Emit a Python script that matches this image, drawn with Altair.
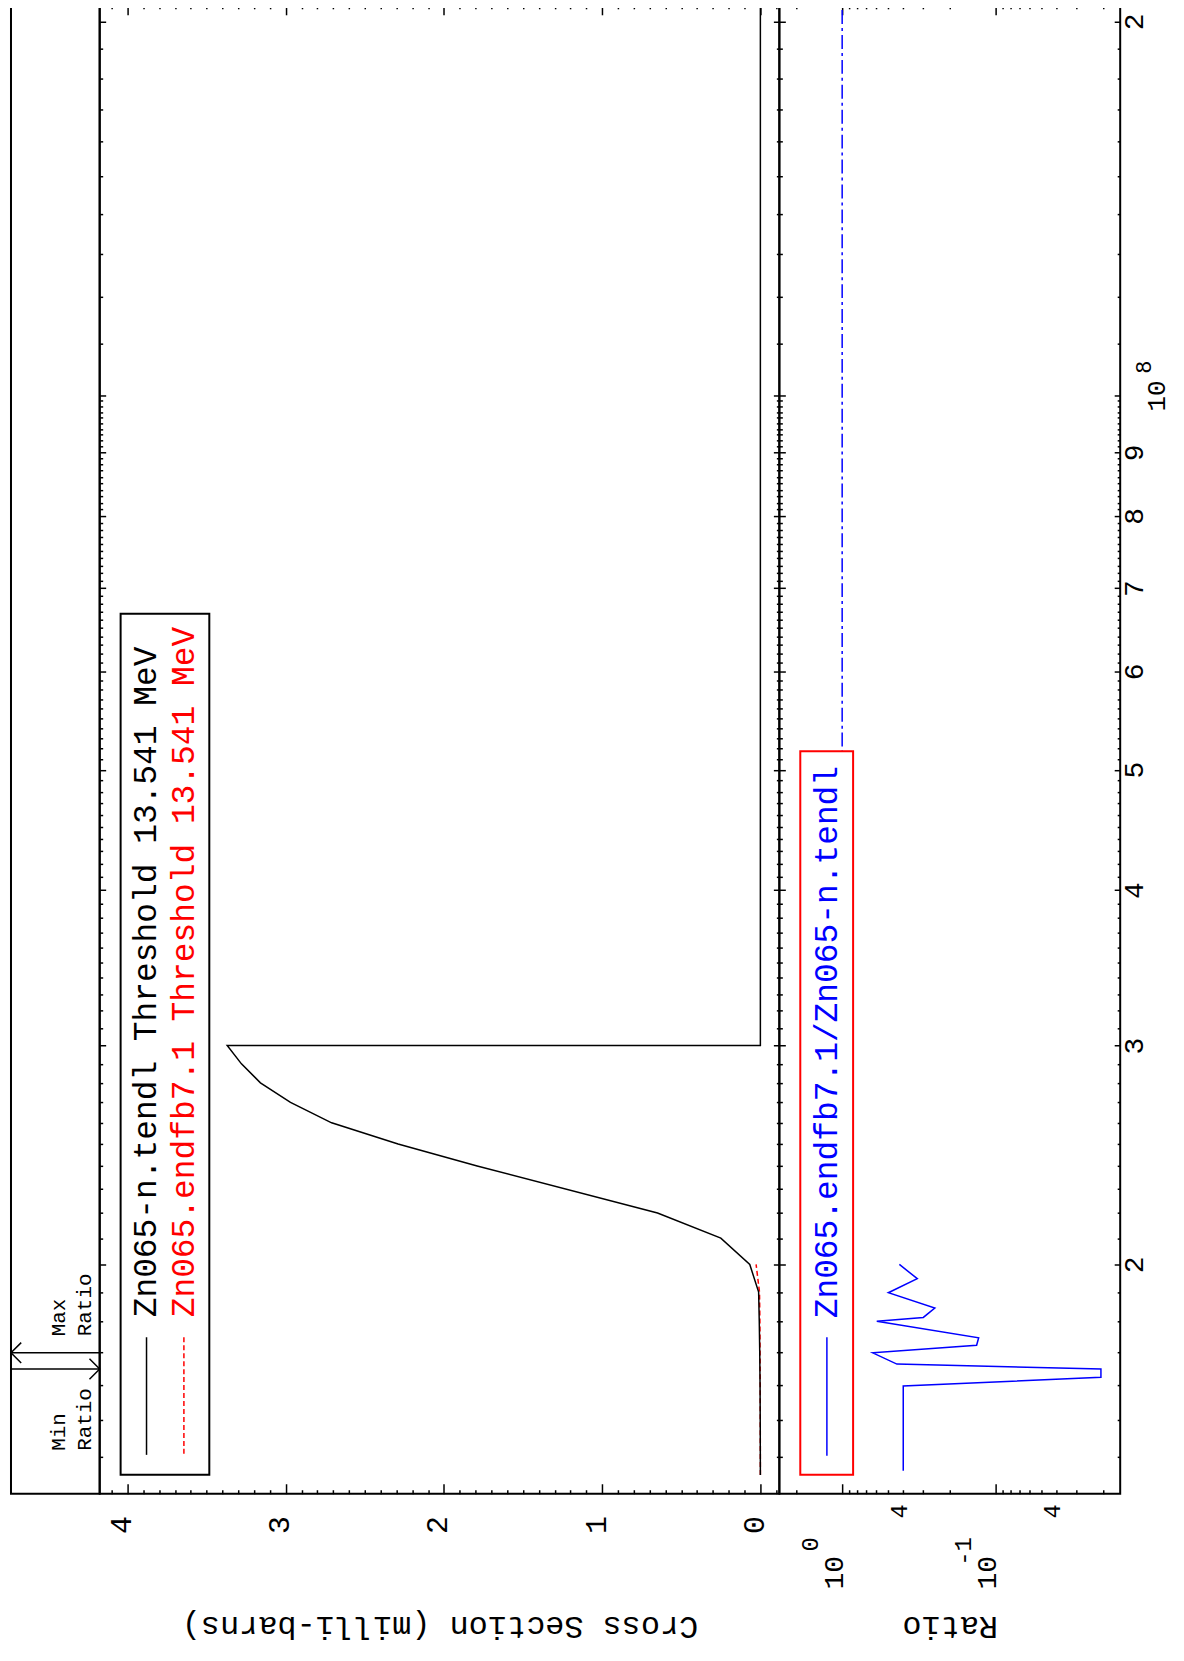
import altair as alt
import pandas as pd

FONT = "Liberation Mono"

# ---------------- axis ranges ----------------
E_DOMAIN = [1.308e7, 2.062e8]      # incident energy (eV), log
CS_DOMAIN = [-0.12, 4.176]         # cross section (milli-barns)
R_DOMAIN = [0.01543, 2.566]        # ratio, log

# ---------------- data ----------------
tendl_E = [1.3541e7, 1.5e7, 1.6e7, 1.7e7, 1.8e7, 1.9e7, 2.0e7, 2.1e7, 2.2e7, 2.4e7,
           2.5e7, 2.6e7, 2.7e7, 2.8e7, 2.9e7, 3.0e7, 3.0e7, 2.1e8]
tendl_cs = [0.0, 0.001, 0.002, 0.004, 0.007, 0.011, 0.067, 0.25, 0.65, 1.79,
            2.29, 2.71, 2.97, 3.16, 3.28, 3.37, 0.0, 0.0]

endfb_E = [1.3541e7, 1.6e7, 1.8e7, 1.9e7, 2.0e7]
endfb_cs = [0.0, 0.001, 0.003, 0.0055, 0.027]

ratio_E = [1.365e7, 1.597e7, 1.623e7, 1.648e7, 1.663e7, 1.698e7, 1.722e7, 1.746e7,
           1.800e7, 1.813e7, 1.845e7, 1.898e7, 1.948e7, 2.000e7]
ratio_val = [0.40, 0.40, 0.0206, 0.0206, 0.44, 0.632, 0.133, 0.129,
             0.595, 0.296, 0.249, 0.50, 0.324, 0.424]

ratio_one_E = [3.0e7, 2.1e8]
ratio_one = [1.0, 1.0]

# energies of the max / min ratio markers in the top strip
marker_E = [1.698e7, 1.648e7]
marker_kind = ["max", "min"]

legend_tendl = "Zn065-n.tendl Threshold 13.541 MeV"
legend_endfb = "Zn065.endfb7.1 Threshold 13.541 MeV"
legend_ratio = "Zn065.endfb7.1/Zn065-n.tendl"

# ---------------- ticks and labels ----------------
cs_major = [0, 1, 2, 3, 4]
cs_minor = [round(i * 0.1, 1) for i in range(-1, 42) if i % 10 != 0]

E_major = [2e7, 3e7, 4e7, 5e7, 6e7, 7e7, 8e7, 9e7, 2e8]
E_major_labels = ["2", "3", "4", "5", "6", "7", "8", "9", "2"]
E_decade = [1e8]
E_decade_base = ["10"]
E_decade_exp = ["8"]
E_minor = [k * 1e6 for k in range(14, 100) if k % 10 != 0] + [k * 1e7 for k in range(11, 20)]

R_major = [1.0, 0.1]
R_major_base = ["10", "10"]
R_major_exp = ["0", "-1"]
R_mid = [0.4, 0.04]
R_mid_labels = ["4", "4"]
R_minor = [2.0, 0.9, 0.8, 0.7, 0.6, 0.5, 0.4, 0.3, 0.2,
           0.09, 0.08, 0.07, 0.06, 0.05, 0.04, 0.03, 0.02]

# ---------------- layout ----------------
H = 1494
W_S = 89
W_CS = 682
W_R = 342


def label_expr(values, labels):
    parts = [f"abs(datum.value - {float(v)!r}) < {abs(float(v)) * 1e-6!r} ? '{l}'"
             for v, l in zip(values, labels)]
    return " : ".join(parts) + " : ''"


def tick_axis(orient, offset, values, size):
    return alt.Axis(orient=orient, offset=offset, values=values, tickSize=size,
                    labels=False, domain=False, grid=False, title=None, ticks=True,
                    tickColor="black", tickWidth=1.5)


def helper(xscale, yscale, xv, yv, xaxis, yaxis):
    df = pd.DataFrame({"hx": [xv], "hy": [yv]})
    return alt.Chart(df).mark_point(opacity=0, size=1).encode(
        x=alt.X("hx:Q", scale=xscale, axis=xaxis),
        y=alt.Y("hy:Q", scale=yscale, axis=yaxis),
    )


ys = alt.Scale(type="log", domain=E_DOMAIN, nice=False, zero=False)
xs_cs = alt.Scale(domain=CS_DOMAIN, reverse=True, nice=False, zero=False)
xs_r = alt.Scale(type="log", domain=R_DOMAIN, reverse=True, nice=False, zero=False)
xs_s = alt.Scale(domain=[0, 1], nice=False, zero=False)

one = pd.DataFrame({"a": [0]})

# ================= strip with Min / Max ratio markers =================
mk = pd.DataFrame({"E": marker_E, "kind": marker_kind, "x0": [0.0, 0.0], "x1": [1.0, 1.0],
                   "head": [0.0, 1.0]})
arrows = alt.Chart(mk).mark_rule(color="black", strokeWidth=1.5).encode(
    x=alt.X("x0:Q", scale=xs_s, axis=None), x2="x1:Q",
    y=alt.Y("E:Q", scale=ys, axis=None))
head_max = alt.Chart(mk).transform_filter("datum.kind == 'max'").mark_point(
    shape="M 1 -1 L 0 0 L 1 1", size=420, filled=False, color="black", strokeWidth=1.5, opacity=1
).encode(x=alt.X("head:Q", scale=xs_s, axis=None), y=alt.Y("E:Q", scale=ys, axis=None))
head_min = alt.Chart(mk).transform_filter("datum.kind == 'min'").mark_point(
    shape="M -1 -1 L 0 0 L -1 1", size=420, filled=False, color="black", strokeWidth=1.5, opacity=1
).encode(x=alt.X("head:Q", scale=xs_s, axis=None), y=alt.Y("E:Q", scale=ys, axis=None))


def strip_text(t, px, py):
    return alt.Chart(pd.DataFrame({"t": [t]})).mark_text(
        angle=270, align="left", baseline="middle", font=FONT, fontSize=21, color="black"
    ).encode(text="t:N", x=alt.value(px), y=alt.value(py))


strip = alt.layer(
    arrows, head_max, head_min,
    strip_text("Max", 48.5, 1336), strip_text("Ratio", 74.5, 1336),
    strip_text("Min", 48.5, 1451), strip_text("Ratio", 74.5, 1451),
).properties(width=W_S, height=H)

# ================= cross-section panel =================
df_t = pd.DataFrame({"E": tendl_E, "cs": tendl_cs, "i": range(len(tendl_E))})
df_e = pd.DataFrame({"E": endfb_E, "cs": endfb_cs, "i": range(len(endfb_E))})

line_t = alt.Chart(df_t).mark_line(color="black", strokeWidth=1.5, clip=True).encode(
    x=alt.X("cs:Q", scale=xs_cs, axis=None), y=alt.Y("E:Q", scale=ys, axis=None),
    order="i:Q")
line_e = alt.Chart(df_e).mark_line(color="#ff0000", strokeWidth=1.5, strokeDash=[5, 3],
                                   clip=True).encode(
    x=alt.X("cs:Q", scale=xs_cs, axis=None), y=alt.Y("E:Q", scale=ys, axis=None),
    order="i:Q")

leg_box = alt.Chart(one).mark_rect(fill="white", stroke="black", strokeWidth=2).encode(
    x=alt.value(21), x2=alt.value(110), y=alt.value(611), y2=alt.value(1475))
leg_l1 = alt.Chart(one).mark_rule(color="black", strokeWidth=1.5).encode(
    x=alt.value(47), y=alt.value(1337), y2=alt.value(1455))
leg_l2 = alt.Chart(one).mark_rule(color="#ff0000", strokeWidth=1.5, strokeDash=[5, 3]).encode(
    x=alt.value(84.5), y=alt.value(1337), y2=alt.value(1455))


def leg_text(t, px, py, color):
    return alt.Chart(pd.DataFrame({"t": [t]})).mark_text(
        angle=270, align="left", baseline="middle", font=FONT, fontSize=33, color=color
    ).encode(text="t:N", x=alt.value(px), y=alt.value(py))


cs_label_axis = alt.Axis(
    orient="bottom", values=cs_major, format="d", labelAngle=270, labelAlign="right",
    labelBaseline="middle", labelFontSize=30, labelPadding=22, labelOffset=-6,
    labelFlush=False, labelOverlap=False, ticks=False, tickSize=0, domain=False, grid=False,
    title="Cross Section (milli-barns)", titleAngle=180, titleFontSize=32,
    titleFontWeight="normal", titleX=W_CS / 2, titleY=133, titleAlign="center",
    titleBaseline="middle", labelColor="black", titleColor="black")

cs_panel = alt.layer(
    helper(xs_cs, ys, 2, 5e7, cs_label_axis, tick_axis("right", -W_CS, E_major + E_decade, 6)),
    helper(xs_cs, ys, 2, 5e7, tick_axis("top", -H, cs_major, 10), tick_axis("right", -W_CS, E_minor, 3)),
    helper(xs_cs, ys, 2, 5e7, tick_axis("top", -H, cs_minor, 4), tick_axis("left", -W_CS, E_major + E_decade, 6)),
    helper(xs_cs, ys, 2, 5e7, tick_axis("bottom", -H, cs_major, 10), tick_axis("left", -W_CS, E_minor, 3)),
    helper(xs_cs, ys, 2, 5e7, tick_axis("bottom", -H, cs_minor, 4), None),
    line_e, line_t,
    leg_box, leg_l1, leg_l2,
    leg_text(legend_tendl, 47, 1317, "black"),
    leg_text(legend_endfb, 84.5, 1317, "#ff0000"),
).resolve_axis(x="independent", y="independent").properties(width=W_CS, height=H)

# ================= ratio panel =================
df_r = pd.DataFrame({"E": ratio_E, "r": ratio_val, "i": range(len(ratio_E))})
df_r1 = pd.DataFrame({"E": ratio_one_E, "r": ratio_one, "i": range(len(ratio_one_E))})

line_r = alt.Chart(df_r).mark_line(color="#0000ff", strokeWidth=1.5, clip=True).encode(
    x=alt.X("r:Q", scale=xs_r, axis=None), y=alt.Y("E:Q", scale=ys, axis=None), order="i:Q")
line_r1 = alt.Chart(df_r1).mark_line(color="#0000ff", strokeWidth=1.5, strokeDash=[14, 4, 3, 4],
                                     clip=True).encode(
    x=alt.X("r:Q", scale=xs_r, axis=None), y=alt.Y("E:Q", scale=ys, axis=None), order="i:Q")

rleg_box = alt.Chart(one).mark_rect(fill="white", stroke="#ff0000", strokeWidth=2).encode(
    x=alt.value(21), x2=alt.value(74), y=alt.value(749), y2=alt.value(1475))
rleg_l = alt.Chart(one).mark_rule(color="#0000ff", strokeWidth=1.5).encode(
    x=alt.value(47.7), y=alt.value(1337), y2=alt.value(1456))


def lab_axis(orient, values, labels, size, pad, off, angle=270, align="right",
             baseline="middle", title=None, **kw):
    return alt.Axis(orient=orient, values=values, labelExpr=label_expr(values, labels),
                    labelAngle=angle, labelAlign=align, labelBaseline=baseline,
                    labelFontSize=size, labelPadding=pad, labelOffset=off, labelFlush=False,
                    labelOverlap=False, ticks=False, tickSize=0, domain=False, grid=False,
                    title=title, labelColor="black", **kw)


r_title_axis = lab_axis("bottom", R_mid, R_mid_labels, 24, 10, -4, title="Ratio",
                        titleAngle=180, titleFontSize=32, titleFontWeight="normal",
                        titleX=W_R / 2, titleY=133, titleAlign="center",
                        titleBaseline="middle", titleColor="black")
r_base_axis = lab_axis("bottom", R_major, R_major_base, 28, 62, -8)
r_exp_axis = lab_axis("bottom", R_major, R_major_exp, 24, 43, -32)

e_lab_axis = lab_axis("right", E_major, E_major_labels, 28, 0, 0, align="center", baseline="top")
e_base_axis = lab_axis("right", E_decade, E_decade_base, 26, 23, 0, align="center", baseline="top")
e_exp_axis = lab_axis("right", E_decade, E_decade_exp, 22, 13, -29, align="center", baseline="top")

ratio_panel = alt.layer(
    helper(xs_r, ys, 0.5, 5e7, r_title_axis, e_lab_axis),
    helper(xs_r, ys, 0.5, 5e7, r_base_axis, e_base_axis),
    helper(xs_r, ys, 0.5, 5e7, r_exp_axis, e_exp_axis),
    helper(xs_r, ys, 0.5, 5e7, tick_axis("top", -H, R_major, 10), tick_axis("right", -W_R, E_major + E_decade, 6)),
    helper(xs_r, ys, 0.5, 5e7, tick_axis("top", -H, R_minor, 4), tick_axis("right", -W_R, E_minor, 3)),
    helper(xs_r, ys, 0.5, 5e7, tick_axis("bottom", -H, R_major, 10), tick_axis("left", -W_R, E_major + E_decade, 6)),
    helper(xs_r, ys, 0.5, 5e7, tick_axis("bottom", -H, R_minor, 4), tick_axis("left", -W_R, E_minor, 3)),
    line_r1,
    rleg_box, rleg_l,
    leg_text(legend_ratio, 47.7, 1318, "#0000ff"),
    line_r,
).resolve_axis(x="independent", y="independent").properties(width=W_R, height=H)

chart = alt.hconcat(strip, cs_panel, ratio_panel, spacing=0, bounds="flush").configure_view(
    stroke="black", strokeWidth=2
).configure_axis(
    labelFont=FONT, titleFont=FONT, labelColor="black", titleColor="black"
).properties(
    padding={"left": -1, "top": -8, "right": 6, "bottom": 0}, background="white"
)

chart.save("out.html", embed_options={"renderer": "svg", "actions": False})
